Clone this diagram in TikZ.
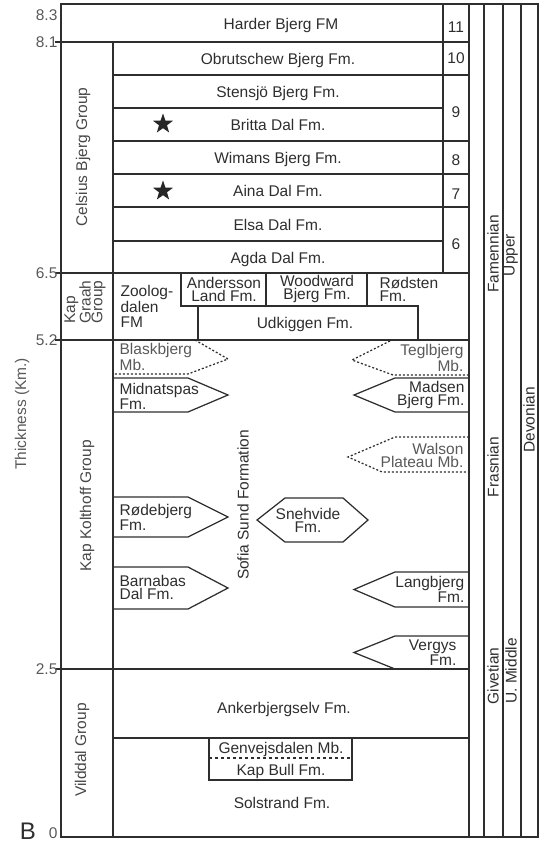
\documentclass[tikz,border=0pt]{standalone}
\usepackage{fontspec}
\setmainfont{Liberation Sans}
\usetikzlibrary{shapes.geometric}

\begin{document}
\begin{tikzpicture}[x=1pt, y=-1pt, line width=1.25pt, color=black!82,
    every node/.style={font=\fontsize{15.5}{13}\selectfont, inner sep=0pt},
    fm/.style={anchor=base},
    twoline/.style={align=center},
    leftlab/.style={anchor=west, align=left},
    rightlab/.style={anchor=east, align=right},
    mbtext/.style={text=black!65},
    axlab/.style={anchor=east, text=black!65},
    grp/.style={rotate=90, text=black!72},
    age/.style={rotate=90},
    member/.style={dash pattern=on 2pt off 2pt},
    starmark/.style={star, star points=5, star point ratio=2.5, fill=black!85, draw=none, minimum size=21pt}]
  \useasboundingbox (0,0) rectangle (547,844);

  % 1. rahmen und spalten
  \draw (61,4) rectangle (538,837);
  \foreach \c in {469,484,503,521} \draw (\c,4) -- (\c,837);
  \draw (443,4) -- (443,273);
  \draw (113,42) -- (113,837);

  % 2. zeitlinien mit skala
  \foreach \y/\v [count=\i] in {42/8.1, 273/6.5, 340/5.2, 669/2.5} {
    \draw (55,\y) -- (469,\y);
    \node[axlab] (tick\i) at (58,\y) {\v};
  }
  \node[axlab] (top) at (58,15) {8.3};
  \node[axlab] (zero) at (58,833) {0};
  \node[anchor=base, font=\fontsize{24}{24}\selectfont] (panel) at (28,839) {B};
  \node[rotate=90, text=black!65] (thick) at (22,414) {Thickness (Km.)};

  % 3. Celsius Bjerg Group
  \foreach \y in {75,108,141,174,207,241} \draw (113,\y) -- (443,\y);
  \foreach \y in {75,141,174,207} \draw (443,\y) -- (469,\y);
  \node[fm] (harder) at (281,29) {Harder Bjerg FM};
  \node[fm] (obrut) at (278,64) {Obrutschew Bjerg Fm.};
  \node[fm] (stensjo) at (278,97) {Stensjö Bjerg Fm.};
  \node[fm] (britta) at (278,130) {Britta Dal Fm.};
  \node[fm] (wimans) at (278,163) {Wimans Bjerg Fm.};
  \node[fm] (aina) at (278,196) {Aina Dal Fm.};
  \node[fm] (elsa) at (278,230) {Elsa Dal Fm.};
  \node[fm] (agda) at (278,263) {Agda Dal Fm.};
  \node[starmark] (star1) at (163,124) {};
  \node[starmark] (star2) at (163,191) {};
  \foreach \n/\y in {11/32, 10/63, 9/117, 8/165, 7/199, 6/249}
    \node[fm] (seq\n) at (456,\y) {\n};
  \node[grp] (celsius) at (83,157) {Celsius Bjerg Group};

  % 4. Kap Graah Group
  \draw (181,273) -- (181,306) -- (418,306) -- (418,340);
  \draw (266,273) -- (266,306);
  \draw (367,273) -- (367,306);
  \draw (198,306) -- (198,340);
  \node[rotate=90, align=left, text=black!72, font=\fontsize{15.5}{11.8}\selectfont] (graah) at (85,302) {Kap\\Graah\\Group};
  \node[anchor=north west, align=left, font=\fontsize{15.5}{12}\selectfont] (zoolog) at (120,285) {Zoolog-\\dalen\\[3pt]FM};
  \node[twoline] (andersson) at (224,289) {Andersson\\Land Fm.};
  \node[twoline] (woodward) at (317,289) {Woodward\\Bjerg Fm.};
  \node[leftlab] (rodsten) at (379,289) {Rødsten\\Fm.};
  \node[fm] (udkiggen) at (305,328) {Udkiggen Fm.};

  % 5. Kap Kolthoff Group
  \foreach \t/\b in {378/412, 497/537, 567/609}
    \draw (113,\t) -- (188,\t) -- (228,{(\t+\b)/2}) -- (188,\b) -- (113,\b);
  \foreach \t/\b in {378/412, 572/607, 636/669}
    \draw (469,\t) -- (395,\t) -- (354,{(\t+\b)/2}) -- (395,\b) -- (469,\b);
  \draw[member] (195,340) -- (228,359) -- (188,374) -- (113,374);
  \draw[member] (390,341) -- (352,360) -- (393,375) -- (469,375);
  \draw[member] (469,437) -- (395,437) -- (348,457) -- (382,472) -- (469,472);
  \draw (257,520) -- (285,498) -- (343,498) -- (368,520) -- (343,542) -- (285,542) -- cycle;
  \node[leftlab, mbtext] (blask) at (119,357) {Blaskbjerg\\Mb.};
  \node[leftlab] (midnat) at (119,396) {Midnatspas\\Fm.};
  \node[leftlab] (rode) at (119,517) {Rødebjerg\\Fm.};
  \node[leftlab] (barnabas) at (119,587) {Barnabas\\Dal Fm.};
  \node[rightlab, mbtext] (tegl) at (464,358) {Teglbjerg\\Mb.};
  \node[rightlab] (madsen) at (465,395) {Madsen\\Bjerg Fm.};
  \node[rightlab, mbtext] (walson) at (464,455) {Walson\\Plateau Mb.};
  \node[rightlab] (lang) at (465,589) {Langbjerg\\Fm.};
  \node[rightlab] (vergys) at (457,653) {Vergys\\Fm.};
  \node[twoline] (snehvide) at (308,520) {Snehvide\\Fm.};
  \node[rotate=90] (sofia) at (243,505) {Sofia Sund Formation};
  \node[grp] (kolthoff) at (87,506) {Kap Kolthoff Group};

  % 6. Vilddal Group
  \draw (113,738) -- (469,738);
  \draw (209,738) rectangle (352,780);
  \draw[dashed] (209,758) -- (352,758);
  \node[fm] (anker) at (284,713) {Ankerbjergselv Fm.};
  \node[fm] (genvej) at (281,753) {Genvejsdalen Mb.};
  \node[fm] (kapbull) at (281,775) {Kap Bull Fm.};
  \node[fm] (solstrand) at (282,808) {Solstrand Fm.};
  \node[grp] (vilddal) at (82,750) {Vilddal Group};

  % 7. stufen, serien, system
  \node[age] (famenn) at (493,254) {Famennian};
  \node[age] (upper) at (511,255) {Upper};
  \node[age] (frasn) at (493,467) {Frasnian};
  \node[age] (devon) at (529,420) {Devonian};
  \node[age] (givet) at (493,676) {Givetian};
  \node[age] (umid) at (511,671) {U. Middle};
\end{tikzpicture}
\end{document}
